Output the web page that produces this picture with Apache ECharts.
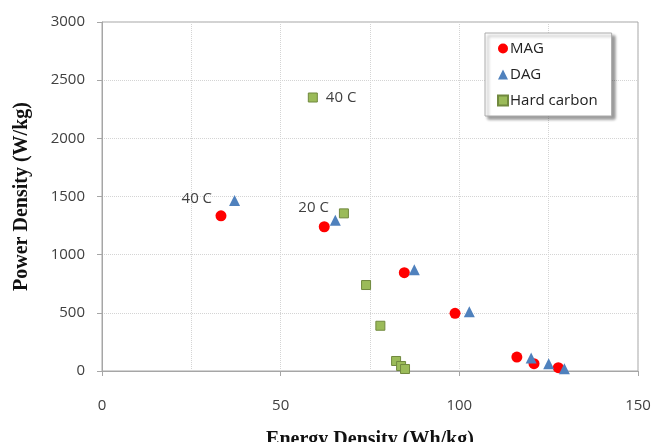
<!DOCTYPE html>
<html>
<head>
<meta charset="utf-8">
<title></title>
<script type="text/javascript" src="https://cdn.jsdelivr.net/npm/echarts@6/dist/echarts.min.js"></script>
</head>
<body style="margin:0;background:#fff;">

<div id="main" style="width: 654px;height:442px;"></div>

<script type="text/javascript">

// [energy density (Wh/kg), power density (W/kg)]
let MAG = [[33.3, 1334], [62.2, 1240], [84.6, 845], [98.8, 496], [116.1, 120], [120.9, 63], [127.7, 29]];
let DAG = [[37.1, 1465], [65.3, 1295], [87.4, 870], [102.8, 510], [120.1, 112], [125.0, 62], [129.4, 20]];
let HARD = [[59.0, 2351], [67.7, 1355], [73.9, 739], [77.9, 389], [82.3, 86], [83.7, 43], [84.8, 17]];
let X_TICKS = [0, 50, 100, 150];
let Y_TICKS = [0, 500, 1000, 1500, 2000, 2500, 3000];

let TXT = '#404040';
let FONT = 'Open Sans';

function labelled(points, idx, text, pos, offset){
	return points.map((p, i) => {
		if(i !== idx) return p;
		return {
			value: p,
			label: { show: true, formatter: text, position: pos, offset: offset,
				color: TXT, fontFamily: FONT, fontSize: 15 }
		};
	});
}

let magData = MAG;
let dagData = labelled(DAG, 0, '40 C', 'left', [-12, -2]);
dagData[1] = { value: DAG[1], label: { show: true, formatter: '20 C', position: 'left', offset: [4, -13],
	color: TXT, fontFamily: FONT, fontSize: 15 } };
let hardData = labelled(HARD, 0, '40 C', 'right', [3, 0]);

var myChart = echarts.init(document.getElementById('main'));

var option = {
	animation: false,
	grid: {
		left: 102, right: 16, top: 22, bottom: 71,
		outerBoundsMode: 'none',
		containLabel: false,
		show: true, borderColor: '#a6a6a6', borderWidth: 1
	},
	legend: {
		orient: 'vertical',
		left: 485, top: 33,
		width: 124,
		padding: [8, 14, 8, 12],
		itemGap: 11,
		itemWidth: 10, itemHeight: 10,
		backgroundColor: '#fff',
		borderColor: '#aaa', borderWidth: 1,
		shadowColor: 'rgba(0,0,0,0.4)', shadowBlur: 3, shadowOffsetX: 3, shadowOffsetY: 3,
		textStyle: { color: '#222', fontFamily: FONT, fontSize: 15, padding: [0, 0, 0, -3] },
		data: ['MAG', 'DAG', 'Hard carbon']
	},
	xAxis: {
		type: 'value',
		min: X_TICKS[0], max: X_TICKS[X_TICKS.length - 1], interval: 50,
		name: 'Energy Density (Wh/kg)',
		nameLocation: 'middle', nameGap: 59,
		nameTextStyle: { fontFamily: 'Liberation Serif', fontWeight: 'bold', fontSize: 20, color: '#111' },
		axisLine: { lineStyle: { color: '#a6a6a6' } },
		axisTick: { show: true, length: 5, lineStyle: { color: '#a6a6a6' } },
		axisLabel: { margin: 27, color: TXT, fontFamily: FONT, fontSize: 15 },
		splitLine: { show: true, lineStyle: { color: '#d4d4d4', type: [1, 1] } },
		minorTick: { show: false, splitNumber: 2 },
		minorSplitLine: { show: true, lineStyle: { color: '#d4d4d4', type: [1, 1] } }
	},
	yAxis: {
		type: 'value',
		min: Y_TICKS[0], max: Y_TICKS[Y_TICKS.length - 1], interval: 500,
		name: 'Power Density (W/kg)',
		nameLocation: 'middle', nameGap: 70, nameRotate: 90,
		nameTextStyle: { fontFamily: 'Liberation Serif', fontWeight: 'bold', fontSize: 20, color: '#111' },
		axisLine: { show: true, lineStyle: { color: '#a6a6a6' } },
		axisTick: { show: true, length: 5, lineStyle: { color: '#a6a6a6' } },
		axisLabel: { margin: 17, color: TXT, fontFamily: FONT, fontSize: 15, formatter: (v) => String(v) },
		splitLine: { show: true, lineStyle: { color: '#d4d4d4', type: [1, 1] } }
	},
	series: [
		{
			name: 'MAG', type: 'scatter', symbol: 'circle', symbolSize: 11,
			itemStyle: { color: '#ff0000', opacity: 1 },
			data: magData
		},
		{
			name: 'DAG', type: 'scatter', symbol: 'triangle', symbolSize: 11,
			itemStyle: { color: '#4f81bd', opacity: 1 },
			data: dagData
		},
		{
			name: 'Hard carbon', type: 'scatter', symbol: 'rect', symbolSize: 9,
			itemStyle: { color: '#9bbb59', borderColor: '#71893f', borderWidth: 1, opacity: 1 },
			data: hardData
		}
	]
};

myChart.setOption(option);

</script>

</body>
</html>
